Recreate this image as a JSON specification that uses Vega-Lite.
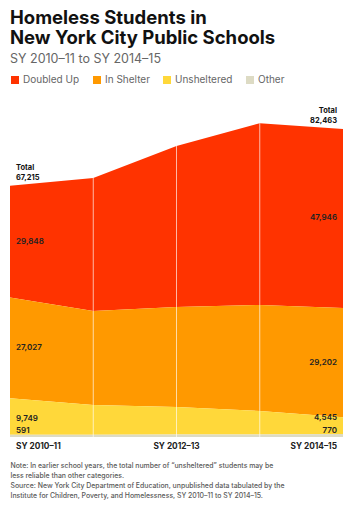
{
  "$schema": "https://vega.github.io/schema/vega-lite/v6.json",
  "width": 333,
  "height": 340,
  "autosize": "none",
  "padding": {"left": 10, "right": 10, "top": 97, "bottom": 78},
  "background": "white",
  "config": {"view": {"stroke": null}, "font": "Inter"},
  "title": {
    "text": ["Homeless Students in", "New York City Public Schools"],
    "subtitle": "SY 2010–11 to SY 2014–15",
    "anchor": "start",
    "frame": "group",
    "fontSize": 18.5,
    "fontWeight": "bold",
    "color": "#111111",
    "lineHeight": 20.5,
    "subtitleFontSize": 12.5,
    "subtitleColor": "#666666",
    "subtitlePadding": 5,
    "offset": 10
  },
  "datasets": {
    "students": [
      {"year": "SY 2010–11", "category": "Doubled Up", "count": 29848, "total": 67215},
      {"year": "SY 2010–11", "category": "In Shelter", "count": 27027, "total": 67215},
      {"year": "SY 2010–11", "category": "Unsheltered", "count": 9749, "total": 67215},
      {"year": "SY 2010–11", "category": "Other", "count": 591, "total": 67215},
      {"year": "SY 2011–12", "category": "Doubled Up", "count": 35595, "total": 69335},
      {"year": "SY 2011–12", "category": "In Shelter", "count": 25170, "total": 69335},
      {"year": "SY 2011–12", "category": "Unsheltered", "count": 7970, "total": 69335},
      {"year": "SY 2011–12", "category": "Other", "count": 600, "total": 69335},
      {"year": "SY 2012–13", "category": "Doubled Up", "count": 43105, "total": 77915},
      {"year": "SY 2012–13", "category": "In Shelter", "count": 26780, "total": 77915},
      {"year": "SY 2012–13", "category": "Unsheltered", "count": 7380, "total": 77915},
      {"year": "SY 2012–13", "category": "Other", "count": 650, "total": 77915},
      {"year": "SY 2013–14", "category": "Doubled Up", "count": 48639, "total": 83989},
      {"year": "SY 2013–14", "category": "In Shelter", "count": 28390, "total": 83989},
      {"year": "SY 2013–14", "category": "Unsheltered", "count": 6260, "total": 83989},
      {"year": "SY 2013–14", "category": "Other", "count": 700, "total": 83989},
      {"year": "SY 2014–15", "category": "Doubled Up", "count": 47946, "total": 82463},
      {"year": "SY 2014–15", "category": "In Shelter", "count": 29202, "total": 82463},
      {"year": "SY 2014–15", "category": "Unsheltered", "count": 4545, "total": 82463},
      {"year": "SY 2014–15", "category": "Other", "count": 770, "total": 82463}
    ]
  },
  "data": {"name": "students"},
  "transform": [
    {"calculate": "indexof(['Other','Unsheltered','In Shelter','Doubled Up'], datum.category)", "as": "ord"},
    {"stack": "count", "groupby": ["year"], "sort": [{"field": "ord", "order": "ascending"}], "as": ["y0", "y1"]},
    {"calculate": "(datum.y0 + datum.y1) / 2", "as": "mid"},
    {"calculate": "format(datum.total, ',')", "as": "totfmt"}
  ],
  "layer": [
    {
      "mark": {"type": "area", "interpolate": "linear"},
      "encoding": {
        "x": {
          "field": "year", "type": "ordinal",
          "scale": {"type": "point", "padding": 0},
          "axis": {
            "labels": false,
            "ticks": false,
            "domain": false,
            "grid": false,
            "title": ["Note: In earlier school years, the total number of “unsheltered” students may be", "less reliable than other categories.", "Source: New York City Department of Education, unpublished data tabulated by the", "Institute for Children, Poverty, and Homelessness, SY 2010–11 to SY 2014–15."],
            "titleFont": "Inter",
            "titleFontSize": 6.9,
            "titleFontWeight": 500,
            "titleColor": "#5a5a5a",
            "titleLineHeight": 10.3,
            "titleAnchor": "start",
            "titleAlign": "left",
            "titleBaseline": "top",
            "titleX": 0,
            "titleY": 25
          }
        },
        "y": {"field": "y1", "type": "quantitative", "scale": {"domain": [0, 91000], "nice": false, "zero": true}, "axis": null},
        "y2": {"field": "y0"},
        "color": {
          "field": "category", "type": "nominal",
          "scale": {"domain": ["Doubled Up", "In Shelter", "Unsheltered", "Other"], "range": ["#FF3300", "#FF9900", "#FFD83A", "#DDDBC4"]},
          "legend": {
            "orient": "none", "legendX": 0, "legendY": -22,
            "direction": "horizontal",
            "title": null,
            "symbolType": "square",
            "symbolSize": 64,
            "symbolStrokeWidth": 0,
            "labelFont": "Inter",
            "labelFontSize": 10,
            "labelColor": "#666666",
            "labelOffset": 3,
            "columnPadding": 12
          }
        }
      }
    },
    {
      "transform": [{"filter": "datum.category == 'Doubled Up' && datum.year != 'SY 2010–11' && datum.year != 'SY 2014–15'"}],
      "mark": {"type": "rule", "color": "white", "strokeWidth": 1, "opacity": 0.65},
      "encoding": {
        "x": {"field": "year", "type": "ordinal"},
        "y": {"field": "y1", "type": "quantitative"},
        "y2": {"datum": 0}
      }
    },
    {
      "transform": [{"filter": "datum.category == 'Other' && datum.year == 'SY 2010–11'"}],
      "mark": {"type": "text", "align": "left", "baseline": "middle", "dx": 6, "dy": 10, "fontSize": 8.3, "fontWeight": "bold", "color": "#222222"},
      "encoding": {"x": {"field": "year", "type": "ordinal"}, "y": {"field": "y0", "type": "quantitative"}, "text": {"field": "year", "type": "nominal"}}
    },
    {
      "transform": [{"filter": "datum.category == 'Other' && datum.year == 'SY 2012–13'"}],
      "mark": {"type": "text", "align": "center", "baseline": "middle", "dy": 10, "fontSize": 8.3, "fontWeight": "bold", "color": "#222222"},
      "encoding": {"x": {"field": "year", "type": "ordinal"}, "y": {"field": "y0", "type": "quantitative"}, "text": {"field": "year", "type": "nominal"}}
    },
    {
      "transform": [{"filter": "datum.category == 'Other' && datum.year == 'SY 2014–15'"}],
      "mark": {"type": "text", "align": "right", "baseline": "middle", "dx": -6, "dy": 10, "fontSize": 8.3, "fontWeight": "bold", "color": "#222222"},
      "encoding": {"x": {"field": "year", "type": "ordinal"}, "y": {"field": "y0", "type": "quantitative"}, "text": {"field": "year", "type": "nominal"}}
    },
    {
      "transform": [{"filter": "datum.year == 'SY 2010–11' && (datum.category == 'Doubled Up' || datum.category == 'In Shelter')"}],
      "mark": {"type": "text", "align": "left", "baseline": "middle", "dx": 6, "fontSize": 8, "fontWeight": 600, "color": "#222222"},
      "encoding": {"x": {"field": "year", "type": "ordinal"}, "y": {"field": "mid", "type": "quantitative"}, "text": {"field": "count", "type": "quantitative", "format": ","}}
    },
    {
      "transform": [{"filter": "datum.year == 'SY 2014–15' && (datum.category == 'Doubled Up' || datum.category == 'In Shelter')"}],
      "mark": {"type": "text", "align": "right", "baseline": "middle", "dx": -6, "fontSize": 8, "fontWeight": 600, "color": "#222222"},
      "encoding": {"x": {"field": "year", "type": "ordinal"}, "y": {"field": "mid", "type": "quantitative"}, "text": {"field": "count", "type": "quantitative", "format": ","}}
    },
    {
      "transform": [{"filter": "datum.year == 'SY 2010–11' && datum.category == 'Unsheltered'"}],
      "mark": {"type": "text", "align": "left", "baseline": "middle", "dx": 6, "dy": -16, "fontSize": 8, "fontWeight": 600, "color": "#222222"},
      "encoding": {"x": {"field": "year", "type": "ordinal"}, "y": {"field": "y0", "type": "quantitative"}, "text": {"field": "count", "type": "quantitative", "format": ","}}
    },
    {
      "transform": [{"filter": "datum.year == 'SY 2014–15' && datum.category == 'Unsheltered'"}],
      "mark": {"type": "text", "align": "right", "baseline": "middle", "dx": -6, "dy": -16, "fontSize": 8, "fontWeight": 600, "color": "#222222"},
      "encoding": {"x": {"field": "year", "type": "ordinal"}, "y": {"field": "y0", "type": "quantitative"}, "text": {"field": "count", "type": "quantitative", "format": ","}}
    },
    {
      "transform": [{"filter": "datum.year == 'SY 2010–11' && datum.category == 'Other'"}],
      "mark": {"type": "text", "align": "left", "baseline": "middle", "dx": 6, "dy": -6, "fontSize": 8, "fontWeight": 600, "color": "#222222"},
      "encoding": {"x": {"field": "year", "type": "ordinal"}, "y": {"field": "y0", "type": "quantitative"}, "text": {"field": "count", "type": "quantitative", "format": ","}}
    },
    {
      "transform": [{"filter": "datum.year == 'SY 2014–15' && datum.category == 'Other'"}],
      "mark": {"type": "text", "align": "right", "baseline": "middle", "dx": -6, "dy": -6, "fontSize": 8, "fontWeight": 600, "color": "#222222"},
      "encoding": {"x": {"field": "year", "type": "ordinal"}, "y": {"field": "y0", "type": "quantitative"}, "text": {"field": "count", "type": "quantitative", "format": ","}}
    },
    {
      "transform": [{"filter": "datum.year == 'SY 2010–11' && datum.category == 'Doubled Up'"}],
      "mark": {"type": "text", "align": "left", "baseline": "alphabetic", "dx": 6, "dy": -6, "fontSize": 7.5, "fontWeight": "bold", "color": "#111111"},
      "encoding": {"x": {"field": "year", "type": "ordinal"}, "y": {"field": "y1", "type": "quantitative"}, "text": {"field": "totfmt", "type": "nominal"}}
    },
    {
      "transform": [{"filter": "datum.year == 'SY 2010–11' && datum.category == 'Doubled Up'"}],
      "mark": {"type": "text", "align": "left", "baseline": "alphabetic", "dx": 6, "dy": -15.5, "fontSize": 7.5, "fontWeight": "bold", "color": "#111111", "text": "Total"},
      "encoding": {"x": {"field": "year", "type": "ordinal"}, "y": {"field": "y1", "type": "quantitative"}}
    },
    {
      "transform": [{"filter": "datum.year == 'SY 2014–15' && datum.category == 'Doubled Up'"}],
      "mark": {"type": "text", "align": "right", "baseline": "alphabetic", "dx": -6, "dy": -6, "fontSize": 7.5, "fontWeight": "bold", "color": "#111111"},
      "encoding": {"x": {"field": "year", "type": "ordinal"}, "y": {"field": "y1", "type": "quantitative"}, "text": {"field": "totfmt", "type": "nominal"}}
    },
    {
      "transform": [{"filter": "datum.year == 'SY 2014–15' && datum.category == 'Doubled Up'"}],
      "mark": {"type": "text", "align": "right", "baseline": "alphabetic", "dx": -6, "dy": -15.5, "fontSize": 7.5, "fontWeight": "bold", "color": "#111111", "text": "Total"},
      "encoding": {"x": {"field": "year", "type": "ordinal"}, "y": {"field": "y1", "type": "quantitative"}}
    }
  ]
}
